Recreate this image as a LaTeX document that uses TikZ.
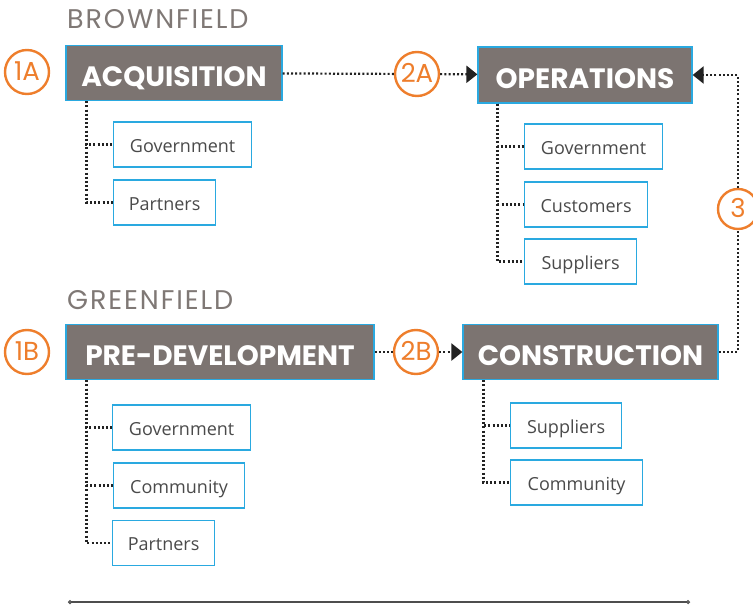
\documentclass[tikz,border=0pt]{standalone}
\usepackage{fontspec}
\setmainfont{Open Sans}
\newfontfamily\headfont{Poppins}
\newfontfamily\fieldfont[LetterSpace=7]{Poppins}
\usetikzlibrary{arrows.meta}
\definecolor{Bark}{HTML}{7C7471}
\definecolor{Sky}{HTML}{2AA9E0}
\definecolor{Flame}{HTML}{EE7E2C}
\definecolor{Stone}{HTML}{7F7875}
\definecolor{Coal}{HTML}{222222}
\definecolor{Slate}{HTML}{4A4A4A}
\tikzset{
  phase/.style={
    draw=Sky, line width=1.2pt, fill=Bark, text=white,
    minimum height=55pt, inner sep=0pt, text height=27.5pt, text depth=0pt,
    font=\headfont\bfseries\fontsize{28}{28}\selectfont
  },
  party/.style={
    draw=Sky, line width=1.2pt, fill=white, text=Slate, anchor=west,
    minimum height=45pt, inner sep=0pt, text height=15pt, text depth=0pt,
    font=\fontsize{18}{18}\selectfont
  },
  stepmark/.style={
    circle, draw=Flame, line width=2.4pt, fill=white, text=Flame,
    minimum size=44pt, inner sep=0pt, text height=16pt, text depth=0pt,
    font=\headfont\fontsize{26}{26}\selectfont
  },
  field/.style={text=Stone, anchor=west, inner sep=0pt,
    font=\fieldfont\fontsize{27}{27}\selectfont},
  tie/.style={draw=Coal, line width=2.2pt, dash pattern=on 2pt off 2.2pt},
  push/.style={tie, -{Triangle[length=11pt,width=17pt]}},
  rule/.style={draw=Coal!80, line width=1.2pt,
    {Circle[open,length=4pt]}-{Circle[open,length=4pt]}}
}

\begin{document}
\begin{tikzpicture}[x=1pt,y=-1pt]
  \useasboundingbox (0,0) rectangle (753,605);
  % headings
  \node[field] (brown) at (67,19) {BROWNFIELD};
  \node[field] (green) at (67,300) {GREENFIELD};
  % phases
  \node[phase,minimum width=216pt] (acq) at (174,73) {ACQUISITION};
  \node[phase,minimum width=214pt,minimum height=56pt] (ops) at (585,75) {OPERATIONS};
  \node[phase,minimum width=308pt] (pre) at (220,352) {PRE-DEVELOPMENT};
  \node[phase,minimum width=255pt] (cons) at (590.5,352) {CONSTRUCTION};
  % step marks
  \node[stepmark] (s1a) at (27,72) {1A};
  \node[stepmark] (s2a) at (417,74) {2A};
  \node[stepmark] (s1b) at (27,352) {1B};
  \node[stepmark] (s2b) at (416,352) {2B};
  \node[stepmark,minimum size=40pt] (s3) at (738,209) {3};
  % parties
  \node[party,minimum width=138pt] (acqgov) at (113,144.5) {Government};
  \node[party,minimum width=102pt] (acqpar) at (113,202.5) {Partners};
  \node[party,minimum width=138pt] (opsgov) at (524,146.5) {Government};
  \node[party,minimum width=123pt] (opscus) at (524,204.5) {Customers};
  \node[party,minimum width=112pt] (opssup) at (524,261.5) {Suppliers};
  \node[party,minimum width=138pt] (pregov) at (112,427.5) {Government};
  \node[party,minimum width=131pt] (precom) at (113,485.5) {Community};
  \node[party,minimum width=102pt] (prepar) at (112,543) {Partners};
  \node[party,minimum width=111pt] (conssup) at (510,425.5) {Suppliers};
  \node[party,minimum width=132pt] (conscom) at (510,482.5) {Community};
  % flow
  \draw[tie] (acq) -- (s2a);
  \draw[push] (s2a) -- (ops);
  \draw[tie] (pre) -- (s2b);
  \draw[push] (s2b) -- (cons);
  \draw[tie] (cons.east) -| (s3.south);
  \draw[push] (s3.north) |- (ops.east);
  % branches
  \draw[tie] ([xshift=21pt]acq.south west) |- (acqgov.west);
  \draw[tie] ([xshift=21pt]acq.south west) |- (acqpar.west);
  \draw[tie] ([xshift=20pt]ops.south west) |- (opsgov.west);
  \draw[tie] ([xshift=20pt]ops.south west) |- (opscus.west);
  \draw[tie] ([xshift=20pt]ops.south west) |- (opssup.west);
  \draw[tie] ([xshift=21pt]pre.south west) |- (pregov.west);
  \draw[tie] ([xshift=21pt]pre.south west) |- (precom.west);
  \draw[tie] ([xshift=21pt]pre.south west) |- (prepar.west);
  \draw[tie] ([xshift=21pt]cons.south west) |- (conssup.west);
  \draw[tie] ([xshift=21pt]cons.south west) |- (conscom.west);
  % rule
  \coordinate (rl) at (68,602);
  \coordinate (rr) at (690,602);
  \draw[rule] (rl) -- (rr);
\end{tikzpicture}
\end{document}
